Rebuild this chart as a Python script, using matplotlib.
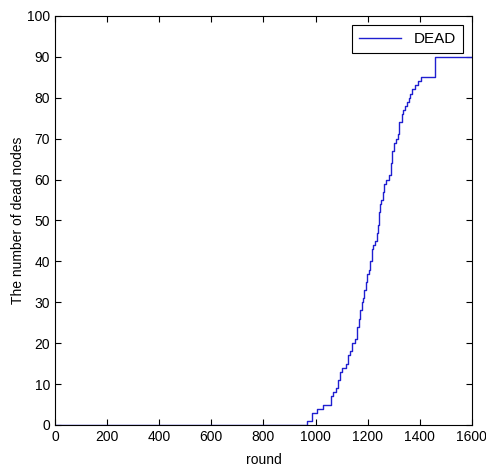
import matplotlib
matplotlib.use("Agg")
import matplotlib.pyplot as plt

plt.rcParams['font.family'] = ['Liberation Sans', 'DejaVu Sans']

# rounds where the dead-node count changes, and the count after the change
rounds = [0, 967, 985, 1005, 1030, 1060, 1068, 1078, 1085, 1092, 1103, 1118, 1125,
          1132, 1140, 1150, 1158, 1165, 1170, 1177, 1183, 1187, 1192, 1198, 1204,
          1209, 1215, 1220, 1228, 1234, 1238, 1242, 1247, 1253, 1258, 1264, 1272,
          1283, 1288, 1295, 1302, 1308, 1315, 1322, 1330, 1337, 1343, 1350, 1357,
          1364, 1372, 1380, 1395, 1405, 1458, 1600]
dead = [0, 1, 3, 4, 5, 7, 8, 9, 11, 13, 14, 15, 17,
        18, 20, 21, 24, 26, 28, 30, 31, 33, 35, 37, 38,
        40, 43, 44, 45, 47, 49, 52, 54, 55, 57, 59, 60,
        61, 64, 67, 69, 70, 71, 74, 76, 77, 78, 79, 80,
        81, 82, 83, 84, 85, 90, 90]

fig = plt.figure(figsize=(4.86, 4.66), dpi=100)
ax = fig.add_axes([0.113, 0.088, 0.858, 0.878])

ax.step(rounds, dead, where="post", color="#1f1fd0", linewidth=1.0, label="DEAD")

ax.set_xlim(0, 1600)
ax.set_ylim(0, 100)
ax.set_xticks(range(0, 1601, 200))
ax.set_yticks(range(0, 101, 10))
ax.tick_params(direction="in", top=True, right=True, labelsize=10, length=4, width=0.8)
ax.set_xlabel("round", fontsize=10)
ax.set_ylabel("The number of dead nodes", fontsize=10)
ax.xaxis.set_label_coords(0.5, -0.068)
ax.yaxis.set_label_coords(-0.072, 0.5)

leg = ax.legend(loc="upper right", fontsize=11, fancybox=False, framealpha=1,
                edgecolor="black", borderaxespad=0.6, handlelength=2.8,
                borderpad=0.45)
leg.get_frame().set_linewidth(0.8)

fig.savefig("out.png", dpi=100)
